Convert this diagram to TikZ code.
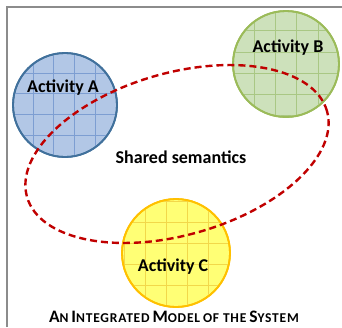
\documentclass[tikz,border=0pt]{standalone}
\usepackage{fontspec}
\setmainfont{Carlito}
\usetikzlibrary{shapes.geometric}
\definecolor{framecol}{HTML}{8C8C8C}
\definecolor{afill}{HTML}{B2C7E6}
\definecolor{agrid}{HTML}{7D9ED2}
\definecolor{aline}{HTML}{41719C}
\definecolor{bfill}{HTML}{CDE1BB}
\definecolor{bgrid}{HTML}{A9C784}
\definecolor{bline}{HTML}{9BBB59}
\definecolor{cfill}{HTML}{FFFF75}
\definecolor{cgrid}{HTML}{F2D84A}
\definecolor{cline}{HTML}{FFC000}
\definecolor{dashred}{HTML}{C00000}
\newcommand{\bigC}[1]{{\fontsize{17.5}{17.5}\selectfont #1}}
\newcommand{\smC}[1]{{\fontsize{13.5}{13.5}\selectfont #1}}
\tikzset{
  act/.style={circle, draw, line width=1.8pt, minimum size=#1, inner sep=0pt},
  lab/.style={font=\bfseries\fontsize{18}{18}\selectfont, inner sep=0pt, text=black},
  cgridlines/.style={line width=0.5pt},
}
\begin{document}
\begin{tikzpicture}[x=1pt,y=-1pt]
\useasboundingbox (0,0) rectangle (342,327);
% frame
\draw[framecol, line width=2pt] (7,327) -- (7,7) -- (342,7);
% circle A
\node[act=104pt, draw=aline, fill=afill] (A) at (65,105) {};
\begin{scope}
  \clip (65,105) circle (51);
  \foreach \x in {12.3,33,53.7,74.4,95.1,115.8} \draw[agrid, cgridlines] (\x,50) -- (\x,160);
  \foreach \y in {52.3,73,93.7,114.4,135.1,155.8} \draw[agrid, cgridlines] (10,\y) -- (120,\y);
\end{scope}
\draw[aline, line width=1.8pt] (A.center) circle (52);
% circle B
\node[act=106pt, draw=bline, fill=bfill] (B) at (286,64) {};
\begin{scope}
  \clip (286,64) circle (52);
  \foreach \x in {233,254,275,296,318,339} \draw[bgrid, cgridlines] (\x,8) -- (\x,120);
  \foreach \y in {9,30,52,73,94,115} \draw[bgrid, cgridlines] (230,\y) -- (342,\y);
\end{scope}
\draw[bline, line width=1.8pt] (B.center) circle (53);
% circle C
\node[act=108pt, draw=cline, fill=cfill] (C) at (176,253) {};
\begin{scope}
  \clip (176,253) circle (53);
  \foreach \x in {124,145,166,187,208,229} \draw[cgrid, cgridlines] (\x,195) -- (\x,310);
  \foreach \y in {201,222,243,264,285,306} \draw[cgrid, cgridlines] (120,\y) -- (232,\y);
\end{scope}
\draw[cline, line width=1.8pt] (C.center) circle (54);
% labels
\node[lab] (la) at (63,88) {Activity A};
\node[lab] (lb) at (288,48) {Activity B};
\node[lab] (lc) at (173,267) {Activity C};
\node[lab] (ls) at (181,157) {Shared semantics};
% shared ellipse
\node[ellipse, draw=dashred, line width=2.4pt, dash pattern=on 7pt off 4pt,
      rotate=16, minimum width=312pt, minimum height=162pt, inner sep=0pt] (E) at (177,154) {};
% title
\node[font=\bfseries\addfontfeature{LetterSpace=6}, inner sep=0pt, anchor=base] (T) at (174,322)
  {\bigC{A}\smC{N} \bigC{I}\smC{NTEGRATED} \bigC{M}\smC{ODEL} \smC{OF THE} \bigC{S}\smC{YSTEM}};
\end{tikzpicture}
\end{document}
